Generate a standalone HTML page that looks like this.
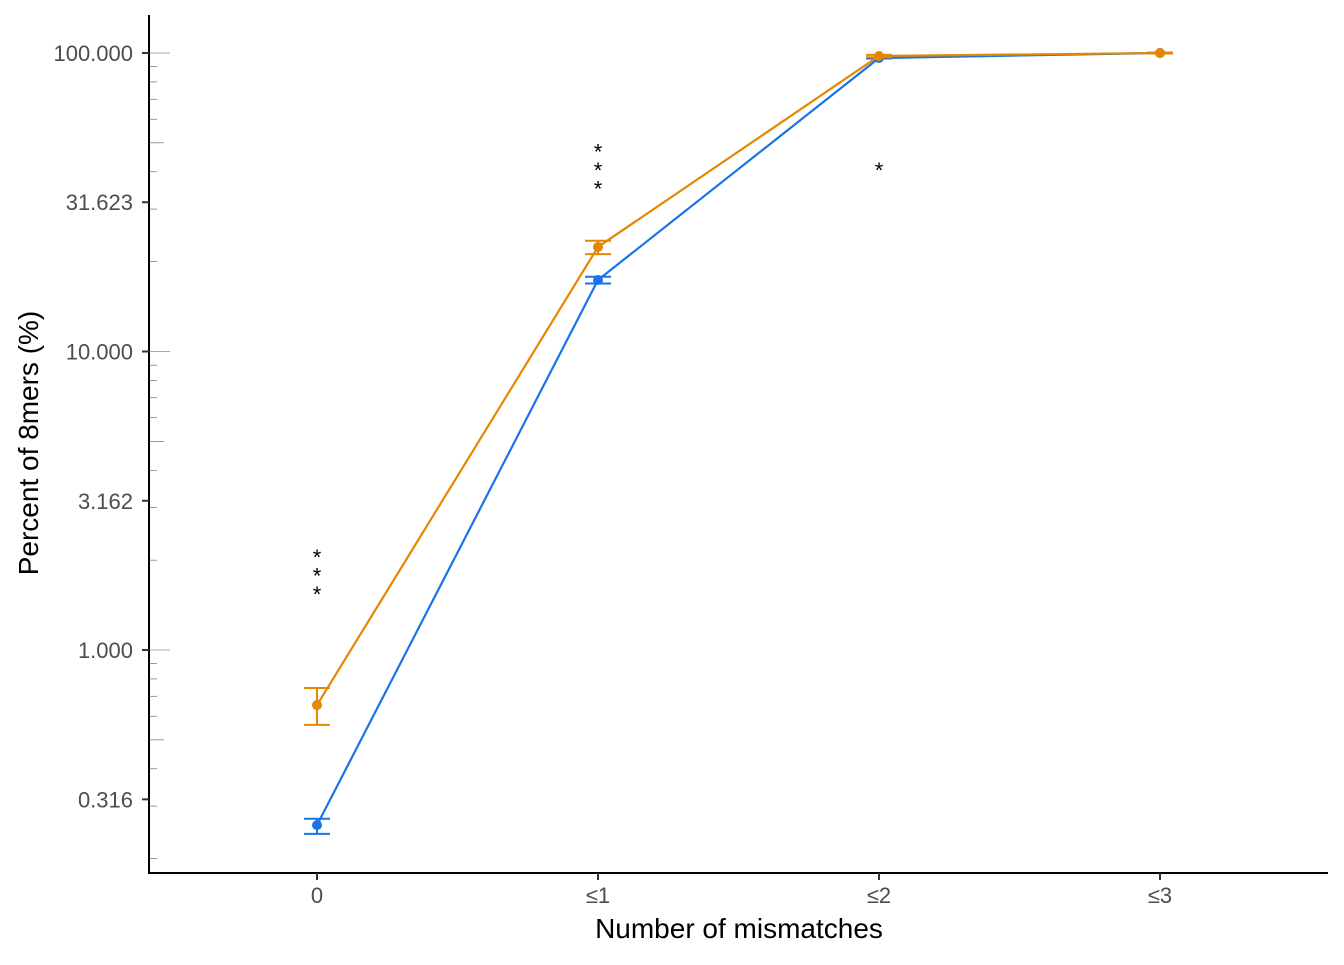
<!DOCTYPE html>
<html><head><meta charset="utf-8"><style>
body{margin:0;background:#fff}
text{font-family:"Liberation Sans",sans-serif}
</style></head><body>
<svg id="c" width="1344" height="960" xmlns="http://www.w3.org/2000/svg"></svg>
<script>
const categories=["0","≤1","≤2","≤3"];
const blueVals=[0.259,17.36,96.2,100];
const blueLo=[0.242,16.9,95.8,99.8];
const blueHi=[0.272,17.8,96.6,100.2];
const orangeVals=[0.654,22.4,97.7,100];
const orangeLo=[0.561,21.2,96.8,99.6];
const orangeHi=[0.746,23.5,98.6,100.4];
const yTicks=[0.316,1,3.162,10,31.623,100];
const yTickLabels=["0.316","1.000","3.162","10.000","31.623","100.000"];
const stars=["***","***","*",""];
const starVals=[1.75,40,40,null];

const svg=document.getElementById('c');
const NS="http://www.w3.org/2000/svg";
const X=i=>317+281*i;
const Y=v=>650-298.5*Math.log10(v);
function el(t,a,p){const e=document.createElementNS(NS,t);for(const k in a)e.setAttribute(k,a[k]);(p||svg).appendChild(e);return e;}

let e=el('line',{x1:149,y1:15,x2:149,y2:873.5,stroke:'#000','stroke-width':2});


e=el('line',{x1:148,y1:873,x2:1328,y2:873,stroke:'#000','stroke-width':2});



for(let d=-1;d<=2;d++){for(let m=1;m<=9;m++){const v=m*Math.pow(10,d);const y=Y(v);if(y<15||y>873)continue;
 const len=m===1?21:(m===5?15:8);
 e=el('line',{x1:149,y1:y,x2:149+len,y2:y,stroke:'#555','stroke-width':0.6});
 
 }}

yTicks.forEach((v,i)=>{const y=Y(v);
 e=el('line',{x1:142,y1:y,x2:149,y2:y,stroke:'#333','stroke-width':2});
 
 
 e=el('text',{x:133,y:y+8,'text-anchor':'end','font-size':22,fill:'#4d4d4d'});e.textContent=yTickLabels[i];
 
 });
categories.forEach((c,i)=>{
 e=el('line',{x1:X(i),y1:873,x2:X(i),y2:880,stroke:'#333','stroke-width':2});
 
 
 e=el('text',{x:X(i),y:903,'text-anchor':'middle','font-size':22,fill:'#4d4d4d'});e.textContent=c;
 
 });

e=el('text',{x:739,y:938,'text-anchor':'middle','font-size':28,fill:'#000'});e.textContent='Number of mismatches';


e=el('text',{x:0,y:0,transform:'translate(38,443) rotate(-90)','text-anchor':'middle','font-size':28,fill:'#000'});e.textContent='Percent of 8mers (%)';



function series(vals,lo,hi,col,name){
 const g=el('g',{});
 
 
 let p=el('polyline',{points:vals.map((v,i)=>X(i)+','+Y(v)).join(' '),fill:'none',stroke:col,'stroke-width':2.2},g);
 
 
 vals.forEach((v,i)=>{
  const x=X(i);
  const eb=el('path',{d:`M${x-13},${Y(hi[i])}H${x+13}M${x},${Y(hi[i])}V${Y(lo[i])}M${x-13},${Y(lo[i])}H${x+13}`,stroke:col,'stroke-width':2,fill:'none'},g);
  
  
  const c=el('circle',{cx:x,cy:Y(v),r:5,fill:col},g);
  
  
 });
}
series(blueVals,blueLo,blueHi,'#1a73e8','blue');
series(orangeVals,orangeLo,orangeHi,'#e58700','orange');

stars.forEach((s,i)=>{if(!s)return;const yc=Y(starVals[i]);
 [...s].forEach((ch,k)=>{
  const t=el('text',{x:X(i),y:yc-(s.length-1)*9.25+k*18.5+6,'text-anchor':'middle','font-size':22,fill:'#000'});t.textContent=ch;
  
  
 });});
</script>
</body></html>
